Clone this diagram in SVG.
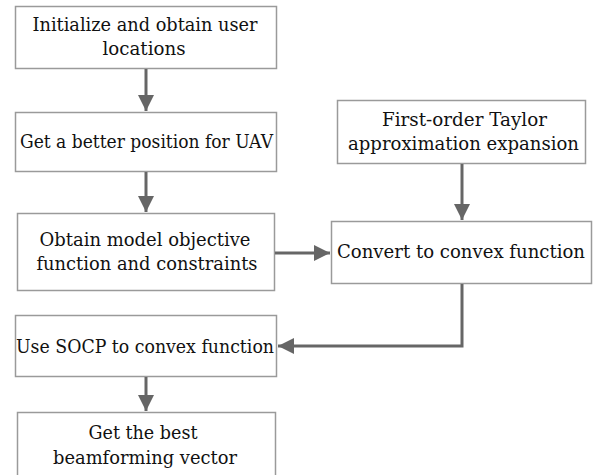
<svg xmlns="http://www.w3.org/2000/svg" width="593" height="475" viewBox="0 0 593 475">
<defs>
<style>
.box{fill:#fff;stroke:#9a9a9a;stroke-width:1.5}
.t{font-family:"DejaVu Serif",serif;font-size:18.5px;fill:#111;text-anchor:middle}
.c{fill:none;stroke:#666;stroke-width:3}
</style>
<marker id="ah" markerWidth="16" markerHeight="16" viewBox="0 0 16 16" refX="16" refY="8" orient="auto" markerUnits="userSpaceOnUse">
<polygon points="0,0 16,8 0,16" fill="#666"/>
</marker>
</defs>
<rect width="593" height="475" fill="#fff"/>
<g id="n1"><rect class="box" x="15.5" y="6.5" width="261" height="62"/>
<text class="t" x="145" y="31" textLength="225" lengthAdjust="spacingAndGlyphs">Initialize and obtain user</text>
<text class="t" x="144" y="55" textLength="83" lengthAdjust="spacingAndGlyphs">locations</text></g>
<g id="n2"><rect class="box" x="15.5" y="112.5" width="261" height="59"/>
<text class="t" x="146.5" y="148" textLength="253" lengthAdjust="spacingAndGlyphs">Get a better position for UAV</text></g>
<g id="n3"><rect class="box" x="17.5" y="213.5" width="257" height="77"/>
<text class="t" x="145" y="246" textLength="211" lengthAdjust="spacingAndGlyphs">Obtain model objective</text>
<text class="t" x="147" y="270" textLength="221" lengthAdjust="spacingAndGlyphs">function and constraints</text></g>
<g id="n4"><rect class="box" x="15.5" y="315.5" width="261" height="61"/>
<text class="t" x="145" y="353" textLength="258" lengthAdjust="spacingAndGlyphs">Use SOCP to convex function</text></g>
<g id="n5"><rect class="box" x="17.5" y="412.5" width="258" height="70"/>
<text class="t" x="143" y="439" textLength="109" lengthAdjust="spacingAndGlyphs">Get the best</text>
<text class="t" x="145" y="464" textLength="184" lengthAdjust="spacingAndGlyphs">beamforming vector</text></g>
<g id="n6"><rect class="box" x="337.5" y="100.5" width="248" height="63"/>
<text class="t" x="464.5" y="126" textLength="165" lengthAdjust="spacingAndGlyphs">First-order Taylor</text>
<text class="t" x="463.5" y="150" textLength="231" lengthAdjust="spacingAndGlyphs">approximation expansion</text></g>
<g id="n7"><rect class="box" x="331.5" y="221.5" width="260" height="62"/>
<text class="t" x="461" y="258" textLength="248" lengthAdjust="spacingAndGlyphs">Convert to convex function</text></g>
<g id="connectors">
<line class="c" x1="146" y1="69" x2="146" y2="111" marker-end="url(#ah)"/>
<line class="c" x1="146" y1="172" x2="146" y2="212" marker-end="url(#ah)"/>
<line class="c" x1="146" y1="377" x2="146" y2="411" marker-end="url(#ah)"/>
<line class="c" x1="462" y1="164" x2="462" y2="220" marker-end="url(#ah)"/>
<line class="c" x1="275" y1="253" x2="330" y2="253" marker-end="url(#ah)"/>
<polyline class="c" points="462,284 462,346 278,346" marker-end="url(#ah)"/>
</g>
</svg>
